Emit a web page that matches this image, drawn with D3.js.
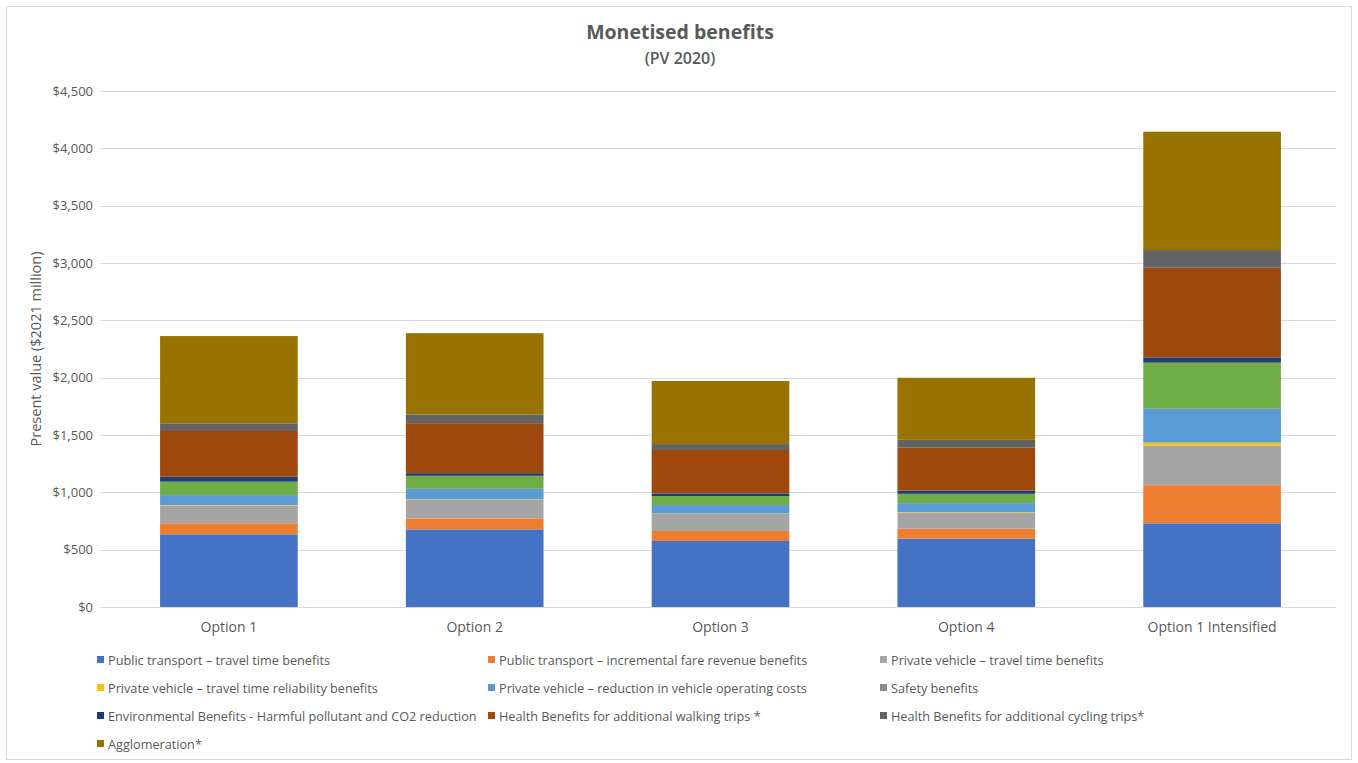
<!DOCTYPE html>
<html>
<head>
<meta charset="utf-8">
<script src="https://cdn.jsdelivr.net/npm/d3@7"></script>
<style>
  html, body { margin: 0; padding: 0; background: #fff; }
  svg { display: block; }
  text { font-family: "Open Sans", "Liberation Sans", sans-serif; fill: #595959; }
</style>
</head>
<body>
<svg id="chart" width="1358" height="763"></svg>
<script>
// Options compared
const categories = ["Option 1", "Option 2", "Option 3", "Option 4", "Option 1 Intensified"];

// Benefit streams (stack order, bottom to top)
const seriesNames = [
  "Public transport – travel time benefits",
  "Public transport – incremental fare revenue benefits",
  "Private vehicle – travel time benefits",
  "Private vehicle – travel time reliability benefits",
  "Private vehicle – reduction in vehicle operating costs",
  "Safety benefits",
  "Environmental Benefits - Harmful pollutant and CO2 reduction",
  "Health Benefits for additional walking trips *",
  "Health Benefits for additional cycling trips*",
  "Agglomeration*"
];

// Present values, $2021 million, one entry per option
const ptTravelTime     = [634, 677, 576, 596, 730];
const ptFareRevenue    = [96, 96, 87, 87, 332];
const pvTravelTime     = [155, 162, 148, 141, 346];
const pvReliability    = [4, 4, 4, 4, 25];
const pvOperatingCosts = [87, 92, 74, 78, 296];
const safety           = [117, 113, 79, 81, 402];
const environmental    = [43, 23, 23, 29, 46];
const healthWalking    = [399, 436, 378, 373, 782];
const healthCycling    = [67, 76, 52, 69, 154];
const agglomeration    = [761, 709, 550, 541, 1032];

const seriesValues = [
  ptTravelTime, ptFareRevenue, pvTravelTime, pvReliability, pvOperatingCosts,
  safety, environmental, healthWalking, healthCycling, agglomeration
];

const yTicks = [0, 500, 1000, 1500, 2000, 2500, 3000, 3500, 4000, 4500];

const barColors = ["#4472C4", "#ED7D31", "#A5A5A5", "#FFC000", "#5B9BD5",
                   "#70AD47", "#1F3C73", "#9E480E", "#636363", "#997300"];
const legendColors = ["#4472C4", "#ED7D31", "#A5A5A5", "#FFC000", "#5B9BD5",
                      "#8C8C8C", "#1F3C73", "#9E480E", "#636363", "#997300"];

const svg = d3.select("#chart");

// outer frame
svg.append("rect")
  .attr("x", 6.5).attr("y", 6.5).attr("width", 1345).attr("height", 753)
  .attr("fill", "#fff").attr("stroke", "#d9d9d9").attr("stroke-width", 1);

const x = d3.scaleBand().domain(categories).range([106, 1335])
  .paddingInner(0.44).paddingOuter(0.22);
const y = d3.scaleLinear().domain([0, 4500]).range([607, 91]);

// gridlines
svg.append("g").selectAll("line").data(yTicks).join("line")
  .attr("x1", 100).attr("x2", 1336)
  .attr("y1", d => Math.round(y(d)) + 0.5).attr("y2", d => Math.round(y(d)) + 0.5)
  .attr("stroke", "#d9d9d9").attr("stroke-width", 1);

// y tick labels
const fmt = d3.format("$,");
svg.append("g").selectAll("text").data(yTicks).join("text")
  .attr("x", 93).attr("y", d => y(d) + 4.5)
  .attr("text-anchor", "end").attr("font-size", 13)
  .text(d => fmt(d));

// y axis title
svg.append("text")
  .attr("transform", `translate(41,${y(2250)}) rotate(-90)`)
  .attr("text-anchor", "middle").attr("font-size", 14.5)
  .text("Present value ($2021 million)");

// stacked data
const rows = categories.map((c, i) => {
  const r = { category: c };
  seriesNames.forEach((s, k) => { r[s] = seriesValues[k][i]; });
  return r;
});
const stacked = d3.stack().keys(seriesNames)(rows);

svg.append("g").selectAll("g").data(stacked).join("g")
  .attr("fill", (d, i) => barColors[i])
  .selectAll("rect").data(d => d).join("rect")
  .attr("x", d => x(d.data.category))
  .attr("width", x.bandwidth())
  .attr("y", d => y(d[1]))
  .attr("height", d => y(d[0]) - y(d[1]));

// category labels
svg.append("g").selectAll("text").data(categories).join("text")
  .attr("x", d => x(d) + x.bandwidth() / 2).attr("y", 632)
  .attr("text-anchor", "middle").attr("font-size", 14)
  .text(d => d);

// title
svg.append("text").attr("x", 680).attr("y", 39)
  .attr("text-anchor", "middle").attr("font-size", 19.5).attr("font-weight", "bold")
  .text("Monetised benefits");
svg.append("text").attr("x", 680).attr("y", 64)
  .attr("text-anchor", "middle").attr("font-size", 16).attr("font-weight", 600)
  .text("(PV 2020)");

// legend
const colX = [97, 488, 880];
const legend = svg.append("g").selectAll("g").data(seriesNames).join("g")
  .attr("transform", (d, i) => `translate(${colX[i % 3]},${660 + Math.floor(i / 3) * 28})`);
legend.append("rect")
  .attr("x", 0).attr("y", -4).attr("width", 7).attr("height", 7)
  .attr("fill", (d, i) => legendColors[i]);
legend.append("text")
  .attr("x", 11).attr("y", 4.5).attr("font-size", 12.7)
  .text(d => d);
</script>
</body>
</html>
